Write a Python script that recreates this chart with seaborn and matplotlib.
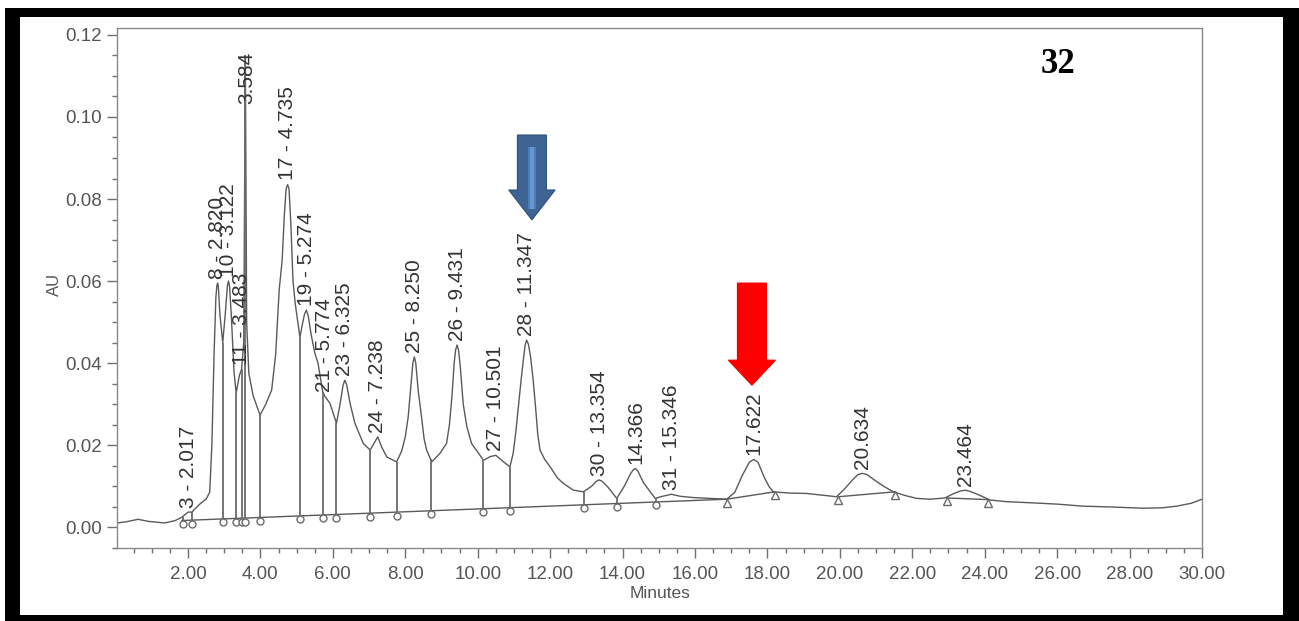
import numpy as np
import pandas as pd
import matplotlib
matplotlib.use("Agg")
import matplotlib.pyplot as plt
from matplotlib.patches import Rectangle, Polygon
from matplotlib.ticker import MultipleLocator, FormatStrFormatter
from matplotlib.transforms import ScaledTranslation
import seaborn as sns

# ---- chromatogram trace (retention time in minutes, absorbance in AU) ----
time_min = [0.04, 0.30, 0.62, 0.90, 1.36, 1.65, 1.83, 1.95, 2.02, 2.10, 2.20, 2.35,
            2.50, 2.60, 2.66, 2.72, 2.77, 2.80, 2.82, 2.84, 2.88, 2.96, 3.03, 3.09,
            3.12, 3.15, 3.20, 3.27, 3.33, 3.42, 3.48, 3.54, 3.584, 3.62, 3.68, 3.80,
            3.99, 4.15, 4.31, 4.42, 4.52, 4.60, 4.66, 4.71, 4.75, 4.79, 4.84, 4.90,
            4.96, 5.09, 5.16, 5.22, 5.27, 5.32, 5.40, 5.50, 5.59, 5.72, 5.77, 5.92,
            6.10, 6.20, 6.28, 6.33, 6.38, 6.48, 6.61, 6.84, 7.03, 7.14, 7.24, 7.35,
            7.49, 7.76, 7.90, 8.00, 8.08, 8.14, 8.21, 8.25, 8.29, 8.36, 8.45, 8.52,
            8.59, 8.73, 8.96, 9.14, 9.22, 9.29, 9.35, 9.39, 9.43, 9.47, 9.52, 9.60,
            9.70, 9.83, 10.16, 10.35, 10.50, 10.70, 10.89, 10.98, 11.05, 11.12, 11.20,
            11.27, 11.31, 11.35, 11.40, 11.46, 11.53, 11.60, 11.66, 11.72, 11.85, 12.00,
            12.20, 12.36, 12.64, 12.92, 13.15, 13.28, 13.35, 13.43, 13.60, 13.84, 14.05,
            14.22, 14.29, 14.35, 14.42, 14.58, 14.90, 15.10, 15.35, 15.60, 15.95, 16.40,
            16.88, 17.10, 17.30, 17.50, 17.62, 17.74, 17.92, 18.05, 18.16, 18.60, 19.08,
            19.50, 19.91, 20.15, 20.38, 20.50, 20.62, 20.75, 20.95, 21.20, 21.48, 21.80,
            22.12, 22.50, 22.90, 23.15, 23.33, 23.46, 23.60, 23.80, 24.15, 24.60, 25.34,
            26.00, 26.72, 27.50, 28.37, 28.90, 29.30, 29.70, 30.00]
absorbance = [0.0010, 0.0013, 0.0019, 0.0014, 0.0010, 0.0016, 0.0024, 0.0033, 0.0037,
              0.0036, 0.0045, 0.0058, 0.0068, 0.0085, 0.0200, 0.0420, 0.0560, 0.0590,
              0.0595, 0.0585, 0.0520, 0.0450, 0.0520, 0.0590, 0.0600, 0.0585, 0.0510,
              0.0380, 0.0327, 0.0370, 0.0385, 0.0450, 0.1150, 0.0500, 0.0375, 0.0320,
              0.0273, 0.0300, 0.0334, 0.0420, 0.0580, 0.0650, 0.0760, 0.0825, 0.0835,
              0.0825, 0.0740, 0.0600, 0.0546, 0.0463, 0.0495, 0.0520, 0.0529, 0.0515,
              0.0470, 0.0425, 0.0400, 0.0330, 0.0320, 0.0302, 0.0253, 0.0300, 0.0345,
              0.0358, 0.0348, 0.0300, 0.0253, 0.0204, 0.0188, 0.0205, 0.0220, 0.0195,
              0.0171, 0.0159, 0.0185, 0.0220, 0.0268, 0.0330, 0.0400, 0.0415, 0.0400,
              0.0330, 0.0268, 0.0215, 0.0188, 0.0159, 0.0180, 0.0204, 0.0250, 0.0320,
              0.0400, 0.0432, 0.0444, 0.0432, 0.0390, 0.0300, 0.0245, 0.0204, 0.0163,
              0.0172, 0.0175, 0.0160, 0.0147, 0.0180, 0.0230, 0.0290, 0.0360, 0.0415,
              0.0444, 0.0456, 0.0446, 0.0415, 0.0360, 0.0290, 0.0225, 0.0188, 0.0165,
              0.0147, 0.0120, 0.0107, 0.0090, 0.0086, 0.0100, 0.0112, 0.0115, 0.0112,
              0.0097, 0.0070, 0.0100, 0.0130, 0.0139, 0.0143, 0.0137, 0.0108, 0.0070,
              0.0075, 0.0080, 0.0075, 0.0072, 0.0070, 0.0068, 0.0085, 0.0125, 0.0158,
              0.0165, 0.0158, 0.0120, 0.0098, 0.0086, 0.0083, 0.0082, 0.0078, 0.0074,
              0.0095, 0.0118, 0.0128, 0.0131, 0.0128, 0.0115, 0.0100, 0.0086, 0.0077,
              0.0070, 0.0068, 0.0071, 0.0082, 0.0088, 0.0090, 0.0087, 0.0080, 0.0066,
              0.0062, 0.0059, 0.0056, 0.0051, 0.0049, 0.0046, 0.0047, 0.0051, 0.0058,
              0.0068]

# ---- integrated peaks ----
peak_labels = ["3 - 2.017", "8 - 2.820", "10 - 3.122", "11 - 3.483", "3.584",
               "17 - 4.735", "19 - 5.274", "21 - 5.774", "23 - 6.325", "24 - 7.238",
               "25 - 8.250", "26 - 9.431", "27 - 10.501", "28 - 11.347", "30 - 13.354",
               "14.366", "31 - 15.346", "17.622", "20.634", "23.464"]
peak_times = [2.017, 2.820, 3.122, 3.483, 3.584, 4.735, 5.274, 5.774, 6.325, 7.238,
              8.250, 9.431, 10.501, 11.347, 13.354, 14.366, 15.346, 17.622, 20.634, 23.464]
peak_heights = [0.0037, 0.0595, 0.0600, 0.0385, 0.1150, 0.0835, 0.0529, 0.0320, 0.0358,
                0.0220, 0.0415, 0.0444, 0.0175, 0.0456, 0.0115, 0.0143, 0.0080, 0.0165,
                0.0131, 0.0090]

# peak boundaries with drop lines (valley markers)
drop_times = [1.85, 2.12, 2.96, 3.33, 3.48, 3.584, 3.99, 5.09, 5.72, 6.10, 7.03, 7.76,
              8.70, 10.16, 10.88, 12.93, 13.86, 14.92]

# baseline segments (start time, end time, start AU, end AU)
bl_start = [1.83, 16.88, 19.96, 22.95]
bl_end = [16.88, 18.20, 21.52, 24.10]
bl_start_au = [0.0016, 0.0068, 0.0074, 0.0071]
bl_end_au = [0.0068, 0.0086, 0.0086, 0.0067]

# highlighted peaks
highlight_blue = 11.347
highlight_red = 17.622

trace = pd.DataFrame({"Minutes": time_min, "AU": absorbance})

sns.set_style("ticks")
plt.rcParams["font.family"] = ["Liberation Sans", "DejaVu Sans"]

fig = plt.figure(figsize=(12.99, 6.21), dpi=100)
fig.patch.set_facecolor("white")

# black picture frame
fig.add_artist(Rectangle((5 / 1299, 0), 1 - 5 / 1299, 1 - 8 / 621,
                         transform=fig.transFigure, facecolor="black",
                         edgecolor="none", zorder=-2))
fig.add_artist(Rectangle((20 / 1299, 6 / 621), (1283 - 20) / 1299, (615 - 17) / 621,
                         transform=fig.transFigure, facecolor="white",
                         edgecolor="none", zorder=-1))

ax = fig.add_axes([117 / 1299, 1 - 548 / 621, (1202 - 117) / 1299, (548 - 28) / 621])
ax.set_facecolor("white")

line_col = "#5a5a5a"
sns.lineplot(data=trace, x="Minutes", y="AU", color=line_col, linewidth=1.0,
             estimator=None, sort=False, ax=ax)

# baselines
for s, e, sa, ea in zip(bl_start, bl_end, bl_start_au, bl_end_au):
    ax.plot([s, e], [sa, ea], color=line_col, linewidth=1.0)

main_bl = lambda t: np.interp(t, [bl_start[0], bl_end[0]], [bl_start_au[0], bl_end_au[0]])

# drop lines
drop_base = main_bl(np.array(drop_times))
drop_top = np.interp(drop_times, time_min, absorbance)
ax.vlines(drop_times, drop_base, drop_top, color="#6a6a6a", linewidth=1.3)

below = ax.transData + ScaledTranslation(0, -2.5 / 72, fig.dpi_scale_trans)
ax.plot(drop_times, drop_base, linestyle="none", marker="o", ms=5, mfc="white",
        mec="#6a6a6a", mew=1.0, transform=below)
tri_t = bl_start[1:] + bl_end[1:]
tri_au = bl_start_au[1:] + bl_end_au[1:]
ax.plot(tri_t, tri_au, linestyle="none", marker="^", ms=6, mfc="white",
        mec="#6a6a6a", mew=1.0, transform=below)

# peak labels
for lab, t, h in zip(peak_labels, peak_times, peak_heights):
    if lab == "3.584":
        ax.annotate(lab, (t, h), xytext=(1, 3), textcoords="offset points",
                    rotation=90, ha="center", va="top", fontsize=15, color="#333333")
    else:
        ax.annotate(lab, (t, h), xytext=(0, 3), textcoords="offset points",
                    rotation=90, ha="center", va="bottom", fontsize=15, color="#333333")


def down_arrow(t, top, head, tip, body_hw, head_hw, color, edge):
    pts = [(t - body_hw, top), (t + body_hw, top), (t + body_hw, head),
           (t + head_hw, head), (t, tip), (t - head_hw, head), (t - body_hw, head)]
    ax.add_patch(Polygon(pts, closed=True, facecolor=color, edgecolor=edge,
                         linewidth=0.8, zorder=5))


down_arrow(highlight_blue + 0.15, 0.0956, 0.0822, 0.0749, 0.40, 0.64, "#3e6494", "#2f4f78")
ax.add_patch(Rectangle((highlight_blue + 0.15 - 0.12, 0.0776), 0.24, 0.0150,
                       facecolor="#4f7db5", edgecolor="none", zorder=6))
ax.add_patch(Rectangle((highlight_blue + 0.15 - 0.06, 0.0776), 0.12, 0.0150,
                       facecolor="#6597d6", edgecolor="none", zorder=6))
down_arrow(highlight_red - 0.05, 0.0595, 0.0407, 0.0346, 0.40, 0.65, "#ff0000", "#ee0000")

# axes styling
ax.set_xlim(0.04, 30.0)
ax.set_ylim(-0.0051, 0.1217)
ax.set_xticks(np.arange(2, 31, 2))
ax.set_yticks(np.arange(0, 0.121, 0.02))
ax.xaxis.set_minor_locator(MultipleLocator(0.5))
ax.yaxis.set_minor_locator(MultipleLocator(0.005))
ax.xaxis.set_major_formatter(FormatStrFormatter("%.2f"))
ax.yaxis.set_major_formatter(FormatStrFormatter("%.2f"))
ax.tick_params(which="major", direction="out", length=7, width=1.0, color="#707070",
               labelcolor="#555555", labelsize=13.5, pad=4)
ax.tick_params(which="minor", direction="out", length=3.5, width=1.0, color="#707070")
ax.tick_params(axis="x", which="major", pad=6)
for sp in ax.spines.values():
    sp.set_visible(True)
    sp.set_color("#8a8a8a")
    sp.set_linewidth(1.0)

ax.set_xlabel("Minutes", fontsize=12.5, color="#555555")
ax.set_ylabel("AU", fontsize=12, color="#555555")
ax.xaxis.set_label_coords(0.5005, -0.073)
ax.yaxis.set_label_coords(-0.051, 0.506)

ax.text(0.867, 0.929, "32", transform=ax.transAxes, fontsize=25, fontweight="bold",
        family=["Liberation Serif", "DejaVu Serif"], color="black", ha="center", va="center")

fig.savefig("out.png", dpi=100, facecolor="white")
